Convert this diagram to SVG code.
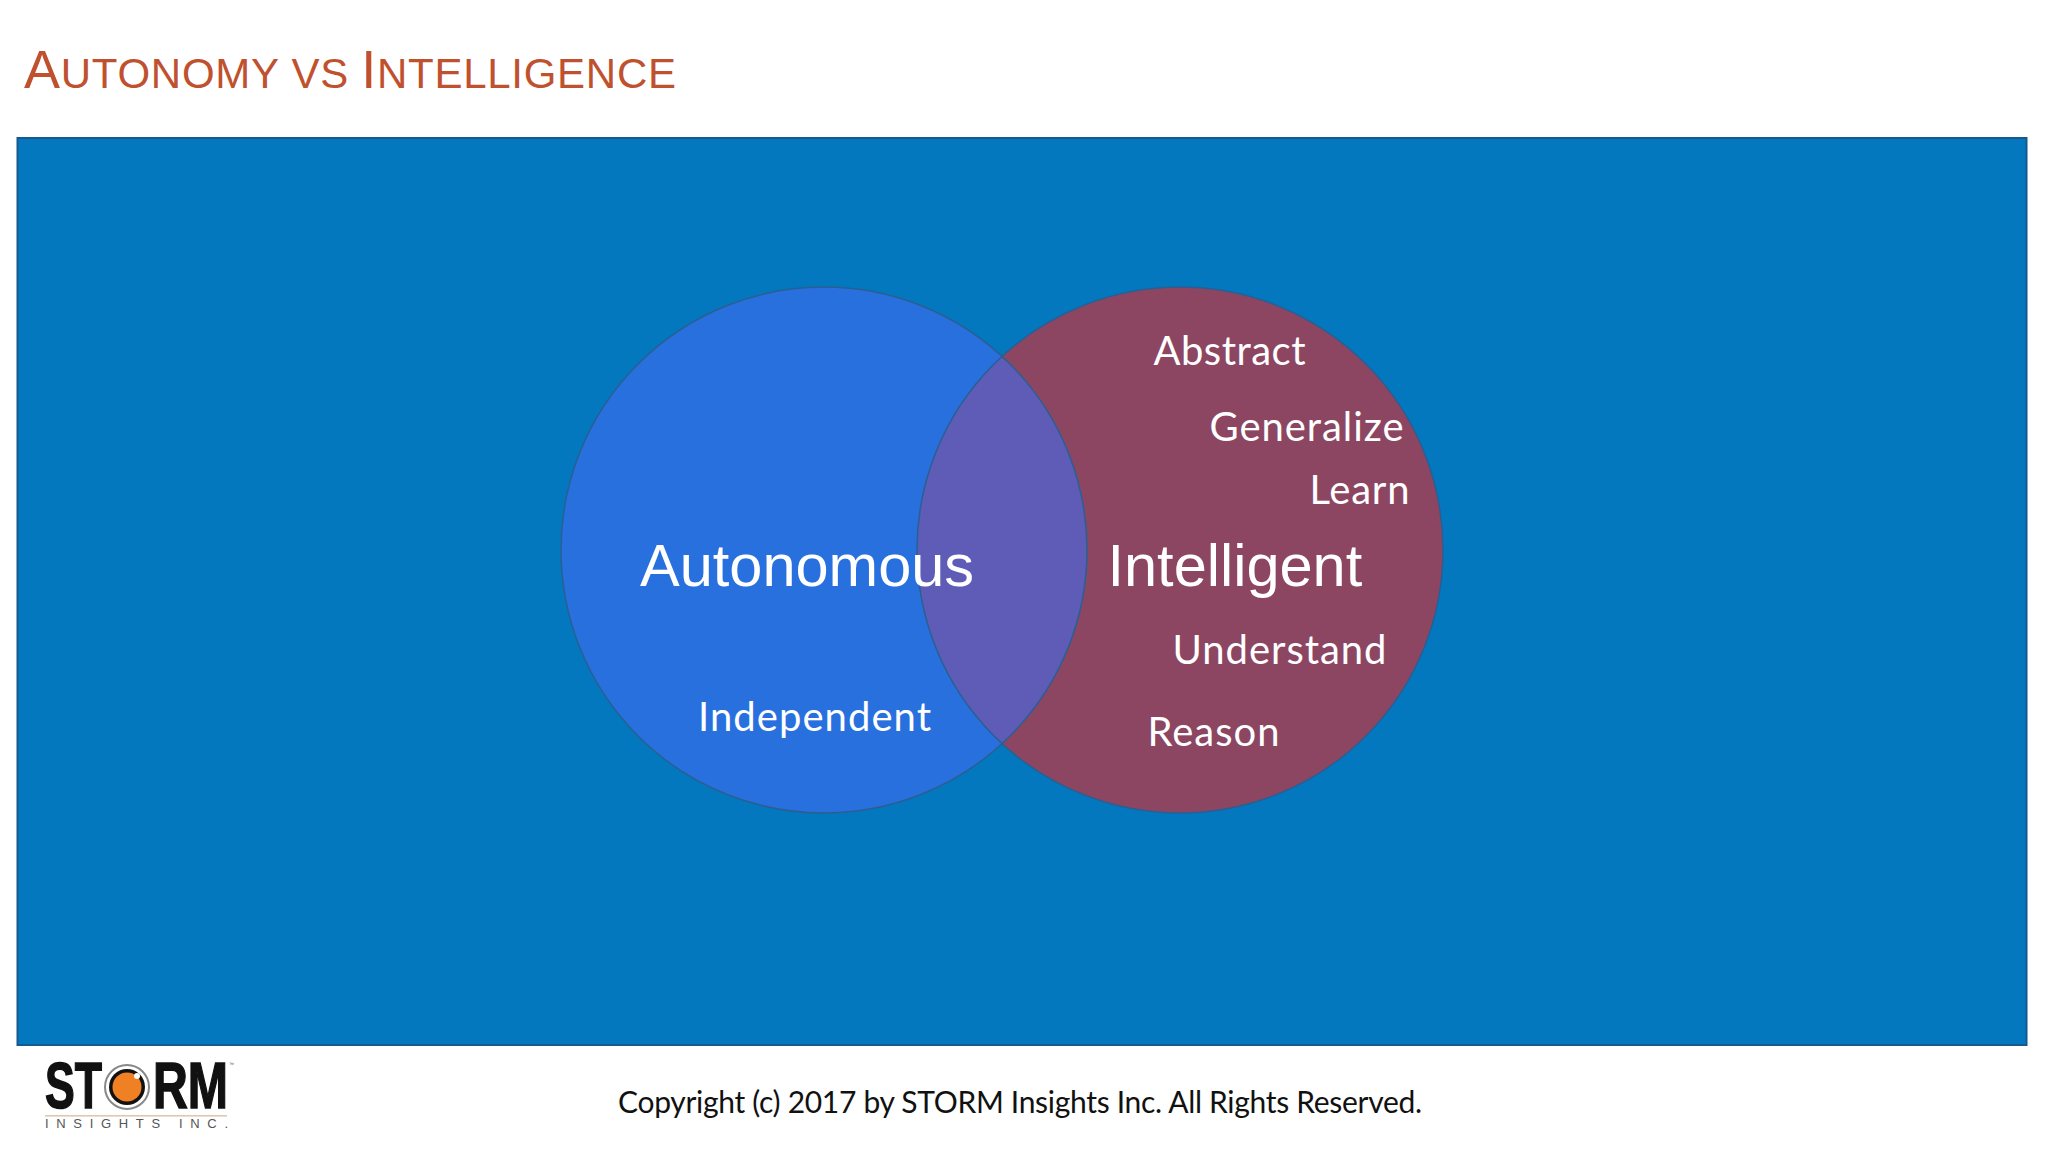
<svg xmlns="http://www.w3.org/2000/svg" width="2048" height="1152" viewBox="0 0 2048 1152">
<style>
.t{font-family:"Liberation Sans",Arial,sans-serif}
.l{font-family:Lato,"Open Sans",sans-serif;font-size:40px;fill:#fff}
.b{font-family:"Liberation Sans",Arial,sans-serif;font-size:59.5px;fill:#fff}
.c{fill:none;stroke:#2a5f93;stroke-width:1.5}
</style>
<defs><clipPath id="ov"><circle cx="824" cy="550" r="263"/></clipPath></defs>
<rect width="2048" height="1152" fill="#fff"/>
<text id="title" class="t" x="24" y="88" font-size="42" fill="#c0512f" textLength="652" lengthAdjust="spacing"><tspan font-size="54">A</tspan>UTONOMY VS <tspan font-size="54">I</tspan>NTELLIGENCE</text>
<rect id="panel" x="17.5" y="138" width="2009" height="907" fill="#0378be" stroke="#17588f" stroke-width="2"/>
<g id="autonomous-circle"><circle cx="824" cy="550" r="263" fill="#2870de"/></g>
<g id="intelligent-circle"><circle cx="1180" cy="550" r="263" fill="#8c4662"/></g>
<g id="overlap"><circle cx="1180" cy="550" r="263" fill="#5e5cb6" clip-path="url(#ov)"/><circle class="c" cx="824" cy="550" r="263"/><circle class="c" cx="1180" cy="550" r="263"/></g>
<text class="b" x="640" y="586">Autonomous</text>
<text class="b" x="1107.5" y="586">Intelligent</text>
<text class="l" x="698" y="731" textLength="233">Independent</text>
<text class="l" x="1153.5" y="365" textLength="152">Abstract</text>
<text class="l" x="1209.5" y="441" textLength="194">Generalize</text>
<text class="l" x="1309.5" y="504" textLength="100">Learn</text>
<text class="l" x="1172.5" y="664" textLength="214">Understand</text>
<text class="l" x="1147.5" y="746" textLength="132">Reason</text>
<text id="copyright" x="618" y="1113" font-family="Lato,'Open Sans',sans-serif" font-size="30" fill="#111" textLength="804">Copyright (c) 2017 by STORM Insights Inc. All Rights Reserved.</text>
<g id="logo">
<text class="t" x="45" y="1108" font-size="64" font-weight="700" stroke="#111" stroke-width="1.5" fill="#111" textLength="57" lengthAdjust="spacingAndGlyphs">ST</text>
<circle cx="127" cy="1087" r="22" fill="#fff" stroke="#888" stroke-width="2"/>
<circle cx="127" cy="1087" r="18" fill="#111"/>
<circle cx="127" cy="1087" r="14.5" fill="#f08024"/>
<circle cx="137" cy="1076" r="3" fill="#fff"/>
<text class="t" x="153" y="1108" font-size="64" font-weight="700" stroke="#111" stroke-width="1.5" fill="#111" textLength="75" lengthAdjust="spacingAndGlyphs">RM</text>
<text class="t" x="229" y="1066" font-size="5" fill="#555">™</text>
<rect x="45" y="1115" width="182" height="1.6" fill="#e0c8b0"/>
<text class="t" x="45" y="1128" font-size="13" fill="#555" textLength="183">INSIGHTS INC.</text>
</g>
</svg>
